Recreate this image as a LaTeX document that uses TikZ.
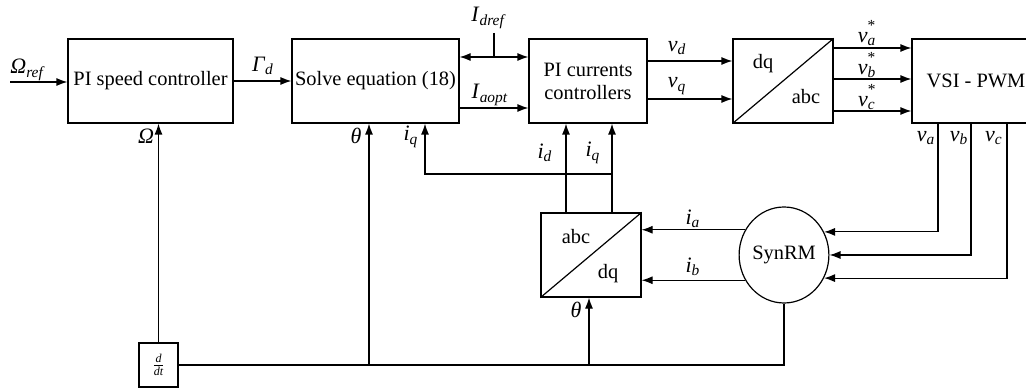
\documentclass[tikz,border=0pt]{standalone}
\usepackage{fontspec}
\setmainfont{Liberation Serif}
\usetikzlibrary{arrows.meta,shapes.geometric}

\newcommand{\sig}[2]{\textit{#1}\textsubscript{\textit{#2}}}
\newcommand{\sigstar}[2]{\textit{#1}\rlap{\raisebox{0.35ex}{\textsuperscript{*}}}\textsubscript{\textit{#2}}}

\tikzset{
  block/.style={draw, line width=0.6pt, minimum height=42pt, align=center,
    inner sep=1pt, font=\fontsize{10.2}{11.5}\selectfont},
  lbl/.style={inner sep=0pt, font=\fontsize{11}{13}\selectfont},
  sigline/.style={line width=0.6pt, -{Latex[length=5.5pt,width=4pt]}},
  wire/.style={line width=0.6pt}
}

\begin{document}
\begin{tikzpicture}[x=0.5pt,y=-0.5pt]
\useasboundingbox (0,0) rectangle (1026,389);

% blocks
\node[block, minimum width=82.5pt] (spd) at (150.5,81) {PI speed controller};
\node[block, minimum width=83.5pt] (solve) at (375.5,81) {Solve equation (18)};
\node[block, minimum width=59pt] (pic) at (588,81) {PI currents\\controllers};
\node[block, minimum width=50pt] (dqabc) at (783,81) {};
\node[block, minimum width=64pt] (vsi) at (976,81) {VSI - PWM};
\node[block, minimum width=50pt] (abcdq) at (591,255) {};
\node[draw, line width=0.6pt, ellipse, minimum width=43.5pt, minimum height=48pt,
  inner sep=0pt, font=\fontsize{10.2}{12}\selectfont] (motor) at (784,255) {SynRM};
\node[draw, line width=0.6pt, minimum width=19.5pt, minimum height=22pt, inner sep=0pt,
  font=\fontsize{8}{9}\selectfont] (ddt) at (158.5,365) {$\frac{\mathit{d}}{\mathit{dt}}$};

% transformation blocks
\draw[wire] (dqabc.south west) -- (dqabc.north east);
\node[lbl, font=\fontsize{10.2}{12}\selectfont] (dqtxt) at (763,64) {dq};
\node[lbl, font=\fontsize{10.2}{12}\selectfont] (abctxt) at (806,97) {abc};
\draw[wire] (abcdq.south west) -- (abcdq.north east);
\node[lbl, font=\fontsize{10.2}{12}\selectfont] (abctxtb) at (576,237) {abc};
\node[lbl, font=\fontsize{10.2}{12}\selectfont] (dqtxtb) at (608,274) {dq};

% helper coordinates
\coordinate (wref) at (10,82);
\coordinate (idtop) at (494,33);
\coordinate (idj) at (494,57);
\coordinate (iaopt) at (0,108);
\coordinate (yvd) at (0,61);
\coordinate (yvq) at (0,99);
\coordinate (yva) at (0,48);
\coordinate (yvb) at (0,79);
\coordinate (yvc) at (0,111);
\coordinate (xva) at (938,0);
\coordinate (xvb) at (971,0);
\coordinate (xvc) at (1007,0);
\coordinate (xd) at (566,0);
\coordinate (xq) at (612,0);
\coordinate (iqj) at (612,174);
\coordinate (xiq) at (425,0);
\coordinate (xth) at (589,0);
\coordinate (xts) at (369,0);

% forward path
\draw[sigline] (wref) -- (spd.west |- wref);
\node[lbl] (lwref) at (28,70) {\sig{Ω}{ref}};
\draw[sigline] (spd.east) -- (solve.west);
\node[lbl] (lgam) at (263,66) {\sig{Γ}{d}};
\draw[wire] (idtop) -- (idj);
\draw[sigline] (idj) -- (solve.east |- idj);
\draw[sigline] (idj) -- (pic.west |- idj);
\node[lbl] (lidref) at (489,18) {\sig{I}{dref}};
\draw[sigline] (solve.east |- iaopt) -- (pic.west |- iaopt);
\node[lbl] (liaopt) at (490,95) {\sig{I}{aopt}};
\draw[sigline] (pic.east |- yvd) -- (dqabc.west |- yvd);
\node[lbl] (lvd) at (677,48) {\sig{v}{d}};
\draw[sigline] (pic.east |- yvq) -- (dqabc.west |- yvq);
\node[lbl] (lvq) at (677,86) {\sig{v}{q}};
\draw[sigline] (dqabc.east |- yva) -- (vsi.west |- yva);
\node[lbl] (lva) at (867,33) {\sigstar{v}{a}};
\draw[sigline] (dqabc.east |- yvb) -- (vsi.west |- yvb);
\node[lbl] (lvb) at (867,65) {\sigstar{v}{b}};
\draw[sigline] (dqabc.east |- yvc) -- (vsi.west |- yvc);
\node[lbl] (lvc) at (867,97) {\sigstar{v}{c}};

% inverter to machine
\draw[sigline] (vsi.south -| xva) |- (motor.30);
\draw[sigline] (vsi.south -| xvb) |- (motor.east);
\draw[sigline] (vsi.south -| xvc) |- (motor.-30);
\node[lbl] (lva2) at (926,138) {\sig{v}{a}};
\node[lbl] (lvb2) at (959,138) {\sig{v}{b}};
\node[lbl] (lvc2) at (994,138) {\sig{v}{c}};

% current measurement
\draw[sigline] (motor.147.5) -- (abcdq.east |- motor.147.5);
\node[lbl] (lia) at (693,219) {\sig{i}{a}};
\draw[sigline] (motor.-147.5) -- (abcdq.east |- motor.-147.5);
\node[lbl] (lib) at (693,267) {\sig{i}{b}};
\draw[sigline] (abcdq.north -| xd) -- (pic.south -| xd);
\node[lbl] (lid) at (545,153) {\sig{i}{d}};
\draw[sigline] (abcdq.north -| xq) -- (pic.south -| xq);
\node[lbl] (liq) at (593,153) {\sig{i}{q}};
\draw[sigline] (iqj) -| (solve.south -| xiq);
\node[lbl] (liq2) at (411,137) {\sig{i}{q}};

% position and speed feedback
\draw[wire] (motor.south) |- (ddt.east);
\draw[sigline] (ddt.east -| xth) -- (abcdq.south -| xth);
\node[lbl] (lth) at (576,310) {\textit{θ}};
\draw[sigline] (ddt.east -| xts) -- (solve.south -| xts);
\node[lbl] (lth2) at (356,136) {\textit{θ}};
\draw[sigline] (ddt.north) -- (spd.south -| ddt.north);
\node[lbl] (lw) at (146,136) {\textit{Ω}};
\end{tikzpicture}
\end{document}
